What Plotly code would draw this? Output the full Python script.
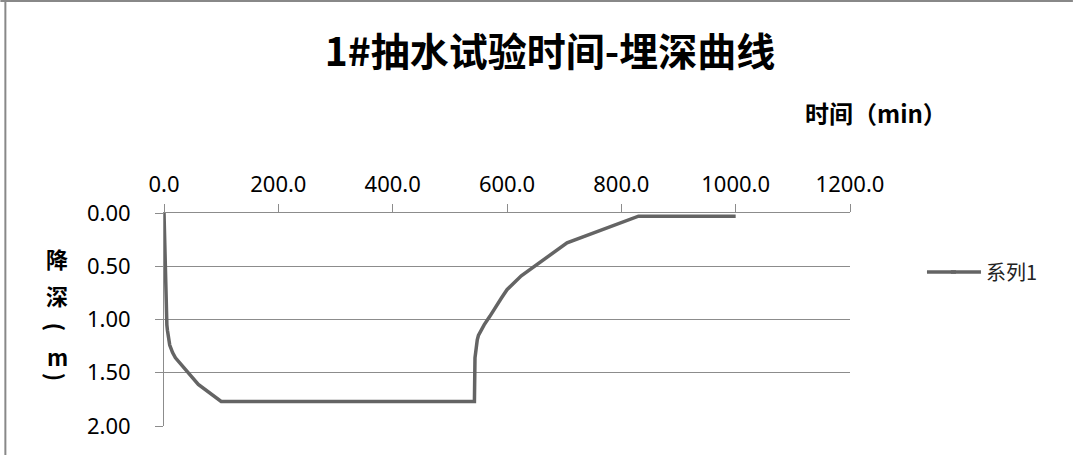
import plotly.graph_objects as go

# Data
time_min = [0, 1, 2, 3, 4, 5, 6, 8, 10, 15, 20, 60, 100, 120, 180, 240, 300, 360, 420, 480, 543,
            544, 545, 546, 548, 550, 555, 560, 570, 580, 590, 600, 625, 705, 830, 900, 1000]
depth_m = [0.00, 0.25, 0.50, 0.75, 0.95, 1.05, 1.10, 1.18, 1.24, 1.31, 1.36, 1.61, 1.77, 1.77, 1.77, 1.77, 1.77, 1.77, 1.77, 1.77, 1.77,
           1.36, 1.30, 1.25, 1.19, 1.15, 1.10, 1.05, 0.97, 0.88, 0.80, 0.72, 0.59, 0.28, 0.03, 0.03, 0.03]
series_name = "系列1"
title_text = "1#抽水试验时间-埋深曲线"
x_title = "时间（min）"
y_title_chars = ["降", "深", "(", "m", ")"]
y_title_angle = [0, 0, 90, 0, 90]
y_title_pos = [258, 295, 327, 356, 377]

W, H = 1073, 455
L, R, T, B = 163.7, 850, 213, 426

FONT = "Noto Sans, Noto Sans CJK SC, sans-serif"
CJK = "Noto Sans CJK SC, sans-serif"
GRID = "#8c8c8c"
LINE = "#646464"


def px(x):
    return (x - L) / (R - L)


def py(y):
    return (B - y) / (B - T)


fig = go.Figure()
fig.add_trace(go.Scatter(
    x=time_min, y=depth_m, mode="lines", name=series_name,
    line=dict(color=LINE, width=3.5),
))

fig.update_layout(
    width=W, height=H,
    margin=dict(l=L, r=W - R, t=T, b=H - B, pad=0),
    paper_bgcolor="white", plot_bgcolor="white",
    font=dict(family=FONT, size=22, color="#000000"),
    title=dict(text="<b>" + title_text + "</b>", x=550 / W, xanchor="center",
               y=1 - 52 / H, yanchor="middle", xref="container",
               font=dict(family=CJK, size=39, color="#000000")),
    showlegend=True,
    legend=dict(x=px(946), xanchor="left", y=py(272), yanchor="middle",
                font=dict(family=CJK, size=20, color="#222222"), bgcolor="rgba(0,0,0,0)",
                itemwidth=30),
    xaxis=dict(side="top", range=[0, 1200], dtick=200, tick0=0, tickformat=".1f",
               showgrid=False, zeroline=False, showline=True, linecolor=GRID, linewidth=1,
               ticks="outside", ticklen=8, tickcolor=GRID, tickwidth=1, ticklabelstandoff=3,
               tickfont=dict(family=FONT, size=22, color="#000000"), fixedrange=True),
    yaxis=dict(range=[2, 0], dtick=0.5, tick0=0, tickformat=".2f",
               showgrid=True, gridcolor=GRID, gridwidth=1, zeroline=False,
               showline=True, linecolor=GRID, linewidth=1,
               ticks="outside", ticklen=8, tickcolor=GRID, tickwidth=1, ticklabelstandoff=20,
               tickfont=dict(family=FONT, size=22, color="#000000"), fixedrange=True),
)

annotations = [dict(text="<b>" + x_title + "</b>", xref="paper", yref="paper",
                    x=px(876), y=py(112), xanchor="center", yanchor="middle",
                    showarrow=False, font=dict(family=CJK, size=24, color="#000000"))]
for ch, ang, yy in zip(y_title_chars, y_title_angle, y_title_pos):
    annotations.append(dict(text="<b>" + ch + "</b>", xref="paper", yref="paper",
                            x=px(57), y=py(yy), xanchor="center", yanchor="middle",
                            textangle=ang, showarrow=False,
                            font=dict(family=CJK, size=22, color="#000000")))
fig.update_layout(annotations=annotations)

# Longer legend sample line, as in the reference
fig.add_shape(type="line", xref="paper", yref="paper",
              x0=px(927), x1=px(956), y0=py(272), y1=py(272),
              line=dict(color=LINE, width=3.5))

# Outer chart border (top and left edges visible)
fig.add_shape(type="line", xref="paper", yref="paper",
              x0=px(0), x1=px(W), y0=py(1), y1=py(1),
              line=dict(color="#888888", width=2))
fig.add_shape(type="line", xref="paper", yref="paper",
              x0=px(5), x1=px(5), y0=py(0), y1=py(H),
              line=dict(color="#888888", width=2))

fig.write_html("out.html")
